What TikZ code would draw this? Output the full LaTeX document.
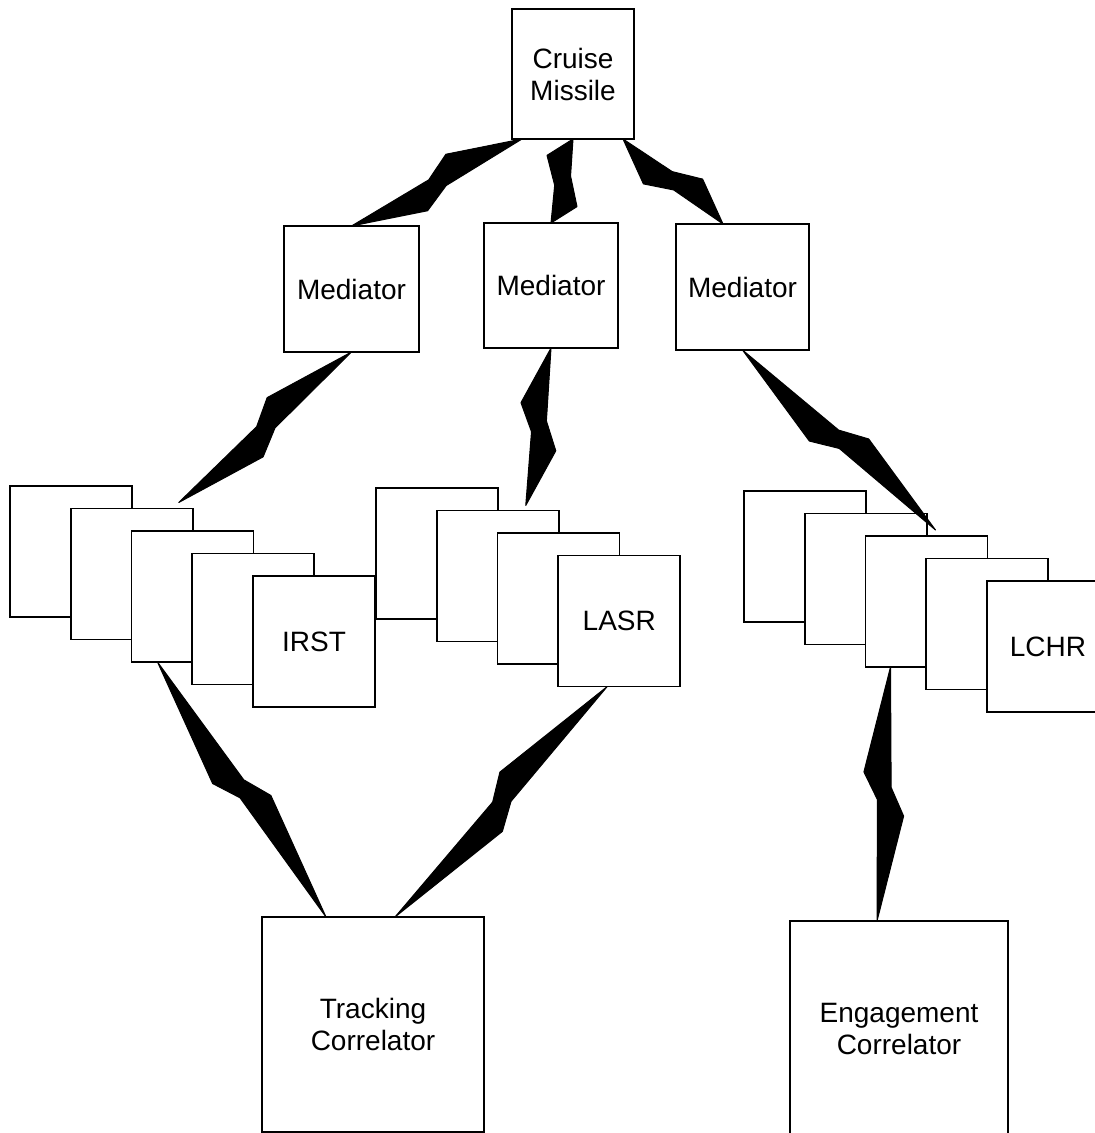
\documentclass[tikz,border=0pt]{standalone}
\usepackage{fontspec}
\setmainfont{Liberation Sans}
\usetikzlibrary{calc}

\tikzset{
	unit/.style = {draw, fill=white, line width=0.9pt, inner sep=0pt, outer sep=0pt, anchor=north west, align=center, font=\fontsize{14}{16}\selectfont},
	sensor/.style = {unit, minimum width=61pt, minimum height=65.5pt},
	bolt/.style = {fill=black, draw=black, line width=0.5pt, line join=round}
}

% lightning link from #1 to #2
\newcommand{\linkBolt}[2]{%
	\coordinate (boltMid) at ($(#1)!0.5!(#2)$);
	\path let \p1 = ($(#2)-(#1)$) in \pgfextra{\pgfmathsetmacro\boltAngle{atan2(\y1,\x1)}\xdef\boltAngle{\boltAngle}};
	\filldraw [bolt, shift={(boltMid)}, rotate=\boltAngle] (#1)
		-- (-10.5pt,-10.5pt) -- (3pt,-3pt)
		-- (#2)
		-- (10.5pt,10.5pt) -- (-3.5pt,3.5pt)
		-- cycle;
}

\begin{document}
\begin{tikzpicture}[x=0.5pt, y=-0.5pt]
	\useasboundingbox (0,0) rectangle (1095,1133);

	% offsets inside a stack
	\def \stackDx {60.75}
	\def \stackDy {22.5}

	% missile and mediators
	\node [unit, minimum width=61pt, minimum height=65pt] (missile) at (512,9) {Cruise\\Missile};
	\node [unit, minimum width=67.5pt, minimum height=63pt] (med1) at (284,226) {Mediator};
	\node [unit, minimum width=67pt, minimum height=62.5pt] (med2) at (484,223) {Mediator};
	\node [unit, minimum width=66.5pt, minimum height=63pt] (med3) at (676,224) {Mediator};

	% LASR stack
	\coordinate (lasrBase) at (376,488);
	\foreach \i in {0,...,2}
		\node [sensor] (lasr\i) at ($(lasrBase) + (\i*\stackDx, \i*\stackDy)$) {};
	\node [sensor] (lasr3) at ($(lasrBase) + (3*\stackDx, 3*\stackDy)$) {LASR};

	% IRST stack
	\coordinate (irstBase) at (10,486);
	\foreach \i in {0,...,3}
		\node [sensor] (irst\i) at ($(irstBase) + (\i*\stackDx, \i*\stackDy)$) {};
	\node [sensor] (irst4) at ($(irstBase) + (4*\stackDx, 4*\stackDy)$) {IRST};

	% LCHR stack
	\coordinate (lchrBase) at (744,491);
	\foreach \i in {0,...,3}
		\node [sensor] (lchr\i) at ($(lchrBase) + (\i*\stackDx, \i*\stackDy)$) {};
	\node [sensor] (lchr4) at ($(lchrBase) + (4*\stackDx, 4*\stackDy)$) {LCHR};

	% correlators
	\node [unit, minimum width=111pt, minimum height=107.5pt] (track) at (262,917) {Tracking\\Correlator};
	\node [unit, minimum width=109pt, minimum height=108pt] (engage) at (790,921) {Engagement\\Correlator};

	% bolt ends
	\coordinate (missileL) at ($(missile.south west)+(10,0)$);
	\coordinate (missileR) at ($(missile.south east)+(-11,0)$);
	\coordinate (med3In) at ($(med3.north west)+(47,0)$);
	\coordinate (irstIn) at ($(irst1.north west)+(108,-6)$);
	\coordinate (lasrIn) at ($(lasr1.north west)+(89,-5)$);
	\coordinate (lchrIn) at ($(lchr2.north west)+(70,-6)$);
	\coordinate (irstOut) at ($(irst2.south west)+(26,0)$);
	\coordinate (lasrOut) at ($(lasr3.south west)+(49,0)$);
	\coordinate (lchrOut) at ($(lchr2.south west)+(25,0)$);
	\coordinate (trackL) at ($(track.north west)+(64,0)$);
	\coordinate (trackR) at ($(track.north west)+(133,0)$);
	\coordinate (engageIn) at ($(engage.north west)+(87,0)$);

	% radio links
	\linkBolt{missileL}{med1.north}
	\linkBolt{missile.south}{med2.north}
	\linkBolt{missileR}{med3In}
	\linkBolt{med1.south}{irstIn}
	\linkBolt{med2.south}{lasrIn}
	\linkBolt{med3.south}{lchrIn}
	\linkBolt{irstOut}{trackL}
	\linkBolt{lasrOut}{trackR}
	\linkBolt{lchrOut}{engageIn}

\end{tikzpicture}
\end{document}
